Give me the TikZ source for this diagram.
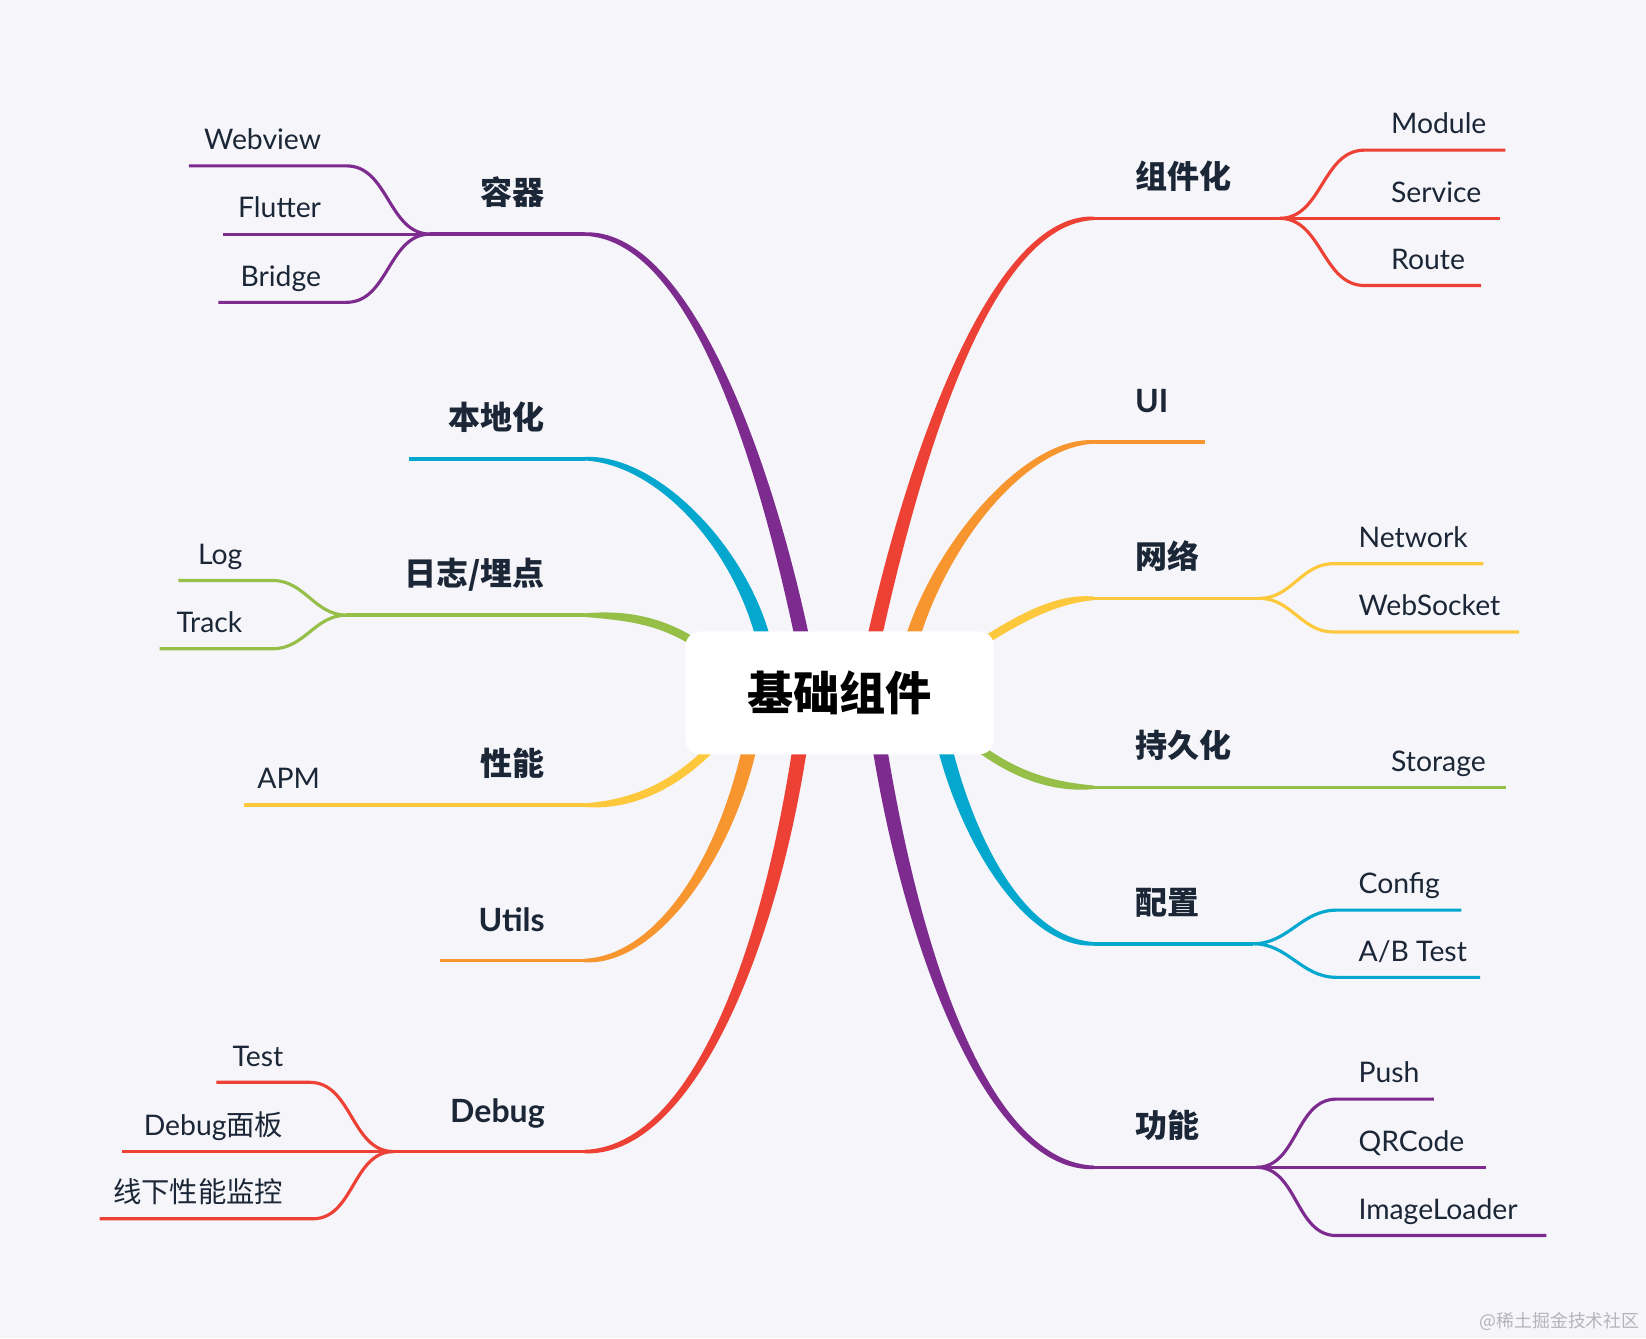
\documentclass[tikz,border=0pt]{standalone}
\usepackage{fontspec}
\setmainfont{Lato}
\newfontfamily\cjk{Noto Sans CJK SC}
\usetikzlibrary{calc}
\definecolor{PaperBg}{HTML}{F5F5FA}
\definecolor{InkNavy}{HTML}{1B2636}
\definecolor{MapPurple}{HTML}{7E2B8F}
\definecolor{MapRed}{HTML}{EE4136}
\definecolor{MapCyan}{HTML}{04A8CF}
\definecolor{MapGreen}{HTML}{95BF47}
\definecolor{MapYellow}{HTML}{FDC83C}
\definecolor{MapOrange}{HTML}{F7952F}
\definecolor{MarkGray}{HTML}{B4B4BC}
\tikzset{
  hub/.style   = {fill=white, rounded corners=14pt, minimum width=294pt,
                  minimum height=117pt, inner sep=0pt, text=black,
                  font=\cjk\bfseries\fontsize{44}{44}\selectfont},
  topic/.style = {inner sep=0pt, text=InkNavy,
                  font=\bfseries\fontsize{30.5}{30.5}\selectfont},
  leaf/.style  = {inner sep=0pt, text=InkNavy,
                  font=\fontsize{27}{27}\selectfont},
  bough/.style = {line width=3.4pt},
  twig/.style  = {line width=3pt}
}
% tapered stem: colour, start, control 1, control 2, end, half width at start, half width at end
\newcommand{\stem}[7]{%
  \fill[#1] ($#2+#6$) .. controls ($#3+#6$) and ($#4+3*#7$) .. ($#5+#7$)
    -- ($#5-#7$) .. controls ($#4-3*#7$) and ($#3-#6$) .. ($#2-#6$) -- cycle;}

\begin{document}
\begin{tikzpicture}[x=1pt, y=-1pt]
\fill[PaperBg] (0,0) rectangle (1568,1275);
\useasboundingbox (0,0) rectangle (1568,1275);

% left side
\coordinate (rq-s) at (765,612);  \coordinate (rq) at (557,223);  \coordinate (rq-j) at (410,223);
\coordinate (bd-s) at (728,612);  \coordinate (bd) at (557,437);  \coordinate (bd-e) at (390,437);
\coordinate (rz-s) at (668,616);  \coordinate (rz) at (557,586);  \coordinate (rz-j) at (330,586);
\coordinate (xn-s) at (680,710);  \coordinate (xn) at (557,767);  \coordinate (xn-e) at (232,767);
\coordinate (ut-s) at (714,712);  \coordinate (ut) at (557,915);  \coordinate (ut-e) at (419,915);
\coordinate (db-s) at (762,712);  \coordinate (db) at (557,1097); \coordinate (db-j) at (375,1097);
% right side
\coordinate (zj-s) at (832,612);  \coordinate (zj) at (1042,208);  \coordinate (zj-j) at (1219,208);
\coordinate (ui-s) at (868,612);  \coordinate (ui) at (1042,421);  \coordinate (ui-e) at (1148,421);
\coordinate (wl-s) at (932,614);  \coordinate (wl) at (1042,570);  \coordinate (wl-j) at (1200,570);
\coordinate (cj-s) at (932,712);  \coordinate (cj) at (1042,750);  \coordinate (cj-e) at (1435,750);
\coordinate (pz-s) at (900,712);  \coordinate (pz) at (1042,899);  \coordinate (pz-j) at (1194,899);
\coordinate (gn-s) at (838,712);  \coordinate (gn) at (1042,1112); \coordinate (gn-j) at (1197,1112);

\stem{MapPurple}{(rq-s)}{(727,430)}{(655,223)}{(rq)}{(7,0)}{(0,-1.7)}
\stem{MapCyan}{(bd-s)}{(705,520)}{(625,437)}{(bd)}{(7,0)}{(0,-1.7)}
\stem{MapGreen}{(rz-s)}{(630,590)}{(595,586)}{(rz)}{(2.1,-3.3)}{(0,-1.7)}
\stem{MapYellow}{(xn-s)}{(640,752)}{(598,767)}{(xn)}{(-2.9,-2.7)}{(0,-1.7)}
\stem{MapOrange}{(ut-s)}{(690,820)}{(625,915)}{(ut)}{(-7,0)}{(0,-1.7)}
\stem{MapRed}{(db-s)}{(730,920)}{(655,1097)}{(db)}{(-7,0)}{(0,-1.7)}
\stem{MapRed}{(zj-s)}{(872,430)}{(945,208)}{(zj)}{(7,0)}{(0,1.7)}
\stem{MapOrange}{(ui-s)}{(895,520)}{(975,421)}{(ui)}{(7,0)}{(0,1.7)}
\stem{MapYellow}{(wl-s)}{(970,590)}{(1005,570)}{(wl)}{(2.3,3.1)}{(0,1.7)}
\stem{MapGreen}{(cj-s)}{(970,740)}{(1005,750)}{(cj)}{(-2.4,3.0)}{(0,1.7)}
\stem{MapCyan}{(pz-s)}{(925,810)}{(980,899)}{(pz)}{(-7,0)}{(0,1.7)}
\stem{MapPurple}{(gn-s)}{(872,920)}{(945,1112)}{(gn)}{(-7,0)}{(0,1.7)}

\node[hub] (root) at (800,660) {基础组件};

% 容器
\draw[bough, MapPurple] (rq) -- (rq-j);
\coordinate (webview-f) at (330,158);  \coordinate (webview-e) at (180,158);
\coordinate (flutter-e) at (212,223);
\coordinate (bridge-f) at (330,288);   \coordinate (bridge-e) at (208,288);
\draw[twig, MapPurple] (rq-j) to[out=180, in=0] (webview-f) -- (webview-e);
\draw[twig, MapPurple] (rq-j) -- (flutter-e);
\draw[twig, MapPurple] (rq-j) to[out=180, in=0] (bridge-f) -- (bridge-e);
\node[topic, anchor=base east] (rongqi) at (519,195) {\cjk 容器};
\node[leaf, anchor=base east] (webview) at (306,142.5) {Webview};
\node[leaf, anchor=base east] (flutter) at (306,207.5) {Flutter};
\node[leaf, anchor=base east] (bridge) at (306,272.5) {Bridge};

% 本地化
\draw[bough, MapCyan] (bd) -- (bd-e);
\node[topic, anchor=base east] (bendi) at (519,409) {\cjk 本地化};

% 日志/埋点
\draw[bough, MapGreen] (rz) -- (rz-j);
\coordinate (log-f) at (260,553);    \coordinate (log-e) at (170,553);
\coordinate (track-f) at (260,618);  \coordinate (track-e) at (152,618);
\draw[twig, MapGreen] (rz-j) to[out=180, in=0] (log-f) -- (log-e);
\draw[twig, MapGreen] (rz-j) to[out=180, in=0] (track-f) -- (track-e);
\node[topic, anchor=base east] (rizhi) at (519,558) {\cjk 日志/埋点};
\node[leaf, anchor=base east] (log) at (231,538) {Log};
\node[leaf, anchor=base east] (track) at (231,602.5) {Track};

% 性能
\draw[bough, MapYellow] (xn) -- (xn-e);
\node[topic, anchor=base east] (xingneng) at (519,739) {\cjk 性能};
\node[leaf, anchor=base east] (apm) at (305,751.5) {APM};

% Utils
\draw[bough, MapOrange] (ut) -- (ut-e);
\node[topic, anchor=base east] (utils) at (519,887) {Utils};

% Debug
\draw[bough, MapRed] (db) -- (db-j);
\coordinate (test-f) at (295,1031);  \coordinate (test-e) at (206,1031);
\coordinate (panel-e) at (116,1097);
\coordinate (perf-f) at (298,1161);  \coordinate (perf-e) at (95,1161);
\draw[twig, MapRed] (db-j) to[out=180, in=0] (test-f) -- (test-e);
\draw[twig, MapRed] (db-j) -- (panel-e);
\draw[twig, MapRed] (db-j) to[out=180, in=0] (perf-f) -- (perf-e);
\node[topic, anchor=base east] (debug) at (519,1069) {Debug};
\node[leaf, anchor=base east] (test) at (270,1015.5) {Test};
\node[leaf, anchor=base east] (panel) at (270,1081.5) {Debug{\cjk 面板}};
\node[leaf, anchor=base east] (perf) at (270,1145.5) {\cjk 线下性能监控};

% 组件化
\draw[bough, MapRed] (zj) -- (zj-j);
\coordinate (module-f) at (1300,143);  \coordinate (module-e) at (1434,143);
\coordinate (service-e) at (1429,208);
\coordinate (route-f) at (1300,272);   \coordinate (route-e) at (1411,272);
\draw[twig, MapRed] (zj-j) to[out=0, in=180] (module-f) -- (module-e);
\draw[twig, MapRed] (zj-j) -- (service-e);
\draw[twig, MapRed] (zj-j) to[out=0, in=180] (route-f) -- (route-e);
\node[topic, anchor=base west] (zujian) at (1081,180) {\cjk 组件化};
\node[leaf, anchor=base west] (module) at (1325,127.5) {Module};
\node[leaf, anchor=base west] (service) at (1325,192.5) {Service};
\node[leaf, anchor=base west] (route) at (1325,256.5) {Route};

% UI
\draw[bough, MapOrange] (ui) -- (ui-e);
\node[topic, anchor=base west] (uinode) at (1081,393) {UI};

% 网络
\draw[bough, MapYellow] (wl) -- (wl-j);
\coordinate (network-f) at (1270,537);  \coordinate (network-e) at (1413,537);
\coordinate (socket-f) at (1270,602);   \coordinate (socket-e) at (1447,602);
\draw[twig, MapYellow] (wl-j) to[out=0, in=180] (network-f) -- (network-e);
\draw[twig, MapYellow] (wl-j) to[out=0, in=180] (socket-f) -- (socket-e);
\node[topic, anchor=base west] (wangluo) at (1081,542) {\cjk 网络};
\node[leaf, anchor=base west] (network) at (1294,521.5) {Network};
\node[leaf, anchor=base west] (socket) at (1294,586.5) {WebSocket};

% 持久化
\draw[bough, MapGreen] (cj) -- (cj-e);
\node[topic, anchor=base west] (chijiu) at (1081,722) {\cjk 持久化};
\node[leaf, anchor=base west] (storage) at (1325,734.5) {Storage};

% 配置
\draw[bough, MapCyan] (pz) -- (pz-j);
\coordinate (config-f) at (1273,867);  \coordinate (config-e) at (1392,867);
\coordinate (abtest-f) at (1273,931);  \coordinate (abtest-e) at (1410,931);
\draw[twig, MapCyan] (pz-j) to[out=0, in=180] (config-f) -- (config-e);
\draw[twig, MapCyan] (pz-j) to[out=0, in=180] (abtest-f) -- (abtest-e);
\node[topic, anchor=base west] (peizhi) at (1081,871) {\cjk 配置};
\node[leaf, anchor=base west] (config) at (1294,851.5) {Config};
\node[leaf, anchor=base west] (abtest) at (1294,915.5) {A/B Test};

% 功能
\draw[bough, MapPurple] (gn) -- (gn-j);
\coordinate (push-f) at (1273,1047);    \coordinate (push-e) at (1366,1047);
\coordinate (qrcode-e) at (1416,1112);
\coordinate (loader-f) at (1273,1177);  \coordinate (loader-e) at (1473,1177);
\draw[twig, MapPurple] (gn-j) to[out=0, in=180] (push-f) -- (push-e);
\draw[twig, MapPurple] (gn-j) -- (qrcode-e);
\draw[twig, MapPurple] (gn-j) to[out=0, in=180] (loader-f) -- (loader-e);
\node[topic, anchor=base west] (gongneng) at (1081,1084) {\cjk 功能};
\node[leaf, anchor=base west] (push) at (1294,1031.5) {Push};
\node[leaf, anchor=base west] (qrcode) at (1294,1096.5) {QRCode};
\node[leaf, anchor=base west] (loader) at (1294,1161.5) {ImageLoader};

\node[anchor=base east, inner sep=0pt, text=MarkGray,
      font=\cjk\fontsize{17}{17}\selectfont] (mark) at (1562,1265) {@稀土掘金技术社区};
\end{tikzpicture}
\end{document}
